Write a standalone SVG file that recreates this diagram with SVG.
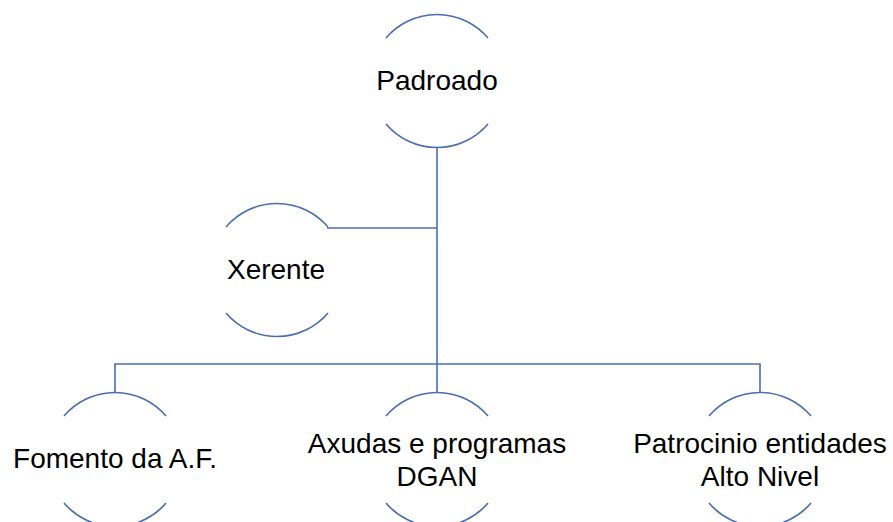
<svg xmlns="http://www.w3.org/2000/svg" width="893" height="522" viewBox="0 0 893 522">
<style>
.arc{fill:none;stroke:#4A6DB3;stroke-width:1.6}
.conn{fill:none;stroke:#4A6DB3;stroke-width:1.6}
.lbl{font-family:"Liberation Sans",Arial,sans-serif;font-size:28px;fill:#000;text-anchor:middle}
</style>
<rect width="893" height="522" fill="#fff"/>
<g id="connectors">
<path class="conn" d="M437,148 V364"/>
<path class="conn" d="M327,228 H437"/>
<path class="conn" d="M115,393 V364 H760 V393"/>
<path class="conn" d="M437,364 V393"/>
</g>
<g id="node-padroado">
<path class="arc" d="M386,38 A67,67 0 0 1 488,38"/>
<path class="arc" d="M386,124 A67,67 0 0 0 488,124"/>
<text class="lbl" x="437" y="90">Padroado</text>
</g>
<g id="node-xerente">
<path class="arc" d="M226,227 A67,67 0 0 1 328,227"/>
<path class="arc" d="M226,313 A67,67 0 0 0 328,313"/>
<text class="lbl" x="276" y="279">Xerente</text>
</g>
<g id="node-fomento">
<path class="arc" d="M64,416 A67,67 0 0 1 166,416"/>
<path class="arc" d="M64,503 A67,67 0 0 0 166,503"/>
<text class="lbl" x="115" y="468">Fomento da A.F.</text>
</g>
<g id="node-axudas">
<path class="arc" d="M386,416 A67,67 0 0 1 488,416"/>
<path class="arc" d="M386,503 A67,67 0 0 0 488,503"/>
<text class="lbl" x="437" y="453">Axudas e programas</text>
<text class="lbl" x="437" y="486">DGAN</text>
</g>
<g id="node-patrocinio">
<path class="arc" d="M709,416 A67,67 0 0 1 811,416"/>
<path class="arc" d="M709,503 A67,67 0 0 0 811,503"/>
<text class="lbl" x="760" y="453">Patrocinio entidades</text>
<text class="lbl" x="760" y="486">Alto Nivel</text>
</g>
</svg>
